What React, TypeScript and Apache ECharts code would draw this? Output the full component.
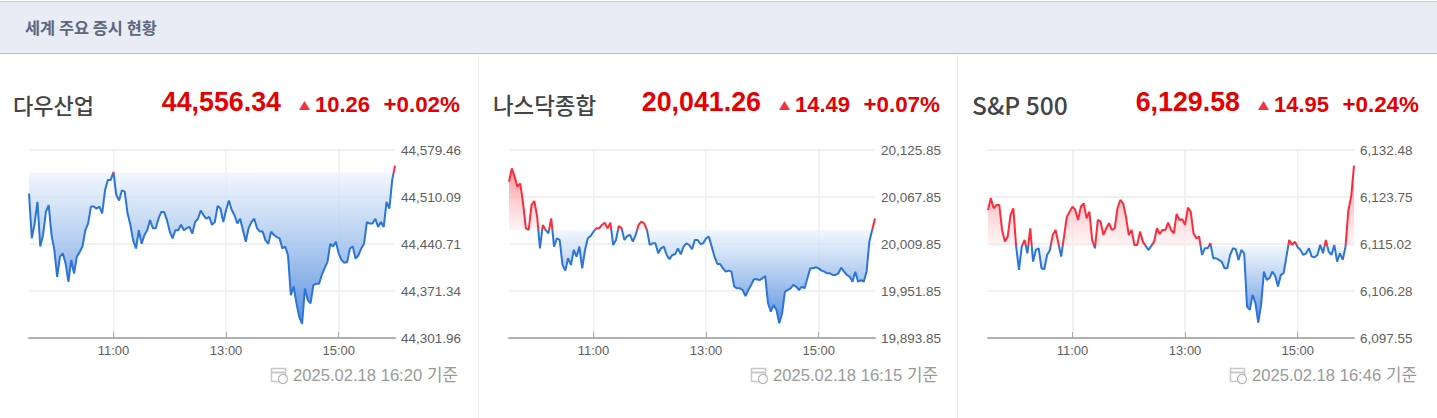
import React, { useEffect, useRef } from "react";
import * as echarts from "echarts";

const pageTitle = "세계 주요 증시 현황";
const names = ["다우산업", "나스닥종합", "S&P 500"];
const nameSizes = [22, 22.4, 24.6];
const prices = ["44,556.34", "20,041.26", "6,129.58"];
const changes = ["10.26", "14.49", "14.95"];
const percents = ["+0.02%", "+0.07%", "+0.24%"];
const stamps = ["2025.02.18 16:20", "2025.02.18 16:15", "2025.02.18 16:46"];
const bases = [44546.08, 20026.77, 6114.63];
const mins = [44301.96, 19893.85, 6097.55];
const maxs = [44579.46, 20125.85, 6132.48];
const tickLabels = [
  ["44,301.96", "44,371.34", "44,440.71", "44,510.09", "44,579.46"],
  ["19,893.85", "19,951.85", "20,009.85", "20,067.85", "20,125.85"],
  ["6,097.55", "6,106.28", "6,115.02", "6,123.75", "6,132.48"],
];
const hourLabels = ["11:00", "13:00", "15:00"];

const categories: string[] = [];
for (let m = 570; m <= 960; m += 3) {
  categories.push(`${String(Math.floor(m / 60)).padStart(2, "0")}:${String(m % 60).padStart(2, "0")}`);
}

const dow = [
  44515, 44449, 44471, 44503, 44437, 44454, 44488, 44498, 44454, 44432,
  44392, 44422, 44427, 44412, 44385, 44417, 44397, 44422, 44429, 44437,
  44461, 44471, 44496, 44496, 44493, 44496, 44486, 44520, 44535, 44535,
  44547, 44513, 44505, 44520, 44518, 44486, 44469, 44446, 44434, 44461,
  44441, 44454, 44461, 44476, 44464, 44464, 44478, 44488, 44488, 44476,
  44459, 44449, 44461, 44461, 44469, 44461, 44464, 44466, 44456, 44473,
  44478, 44490, 44483, 44478, 44481, 44469, 44473, 44497, 44493, 44473,
  44491, 44505, 44491, 44483, 44471, 44478, 44461, 44444, 44464, 44473,
  44478, 44464, 44459, 44459, 44446, 44441, 44459, 44454, 44451, 44449,
  44434, 44437, 44424, 44365, 44378, 44353, 44333, 44323, 44375, 44358,
  44353, 44380, 44382, 44382, 44395, 44405, 44414, 44441, 44437, 44444,
  44427, 44417, 44413, 44414, 44434, 44437, 44419, 44424, 44434, 44441,
  44473, 44471, 44471, 44478, 44466, 44473, 44466, 44503, 44493, 44535,
  44556.34,
];
const nasdaq = [
  20086.8, 20103.2, 20093, 20080.6, 20084.7, 20060, 20029.2, 20027.2, 20058, 20062.9,
  20043.6, 20004.5, 20033.3, 20027.2, 20023, 20041.5, 20006.6, 20016.9, 20014.8, 19984,
  19977, 19992.2, 19984, 20002.5, 19994.2, 20006.6, 19979.8, 20002.5, 20016.9, 20019.7,
  20025, 20029.2, 20029.2, 20033.3, 20036.2, 20029.2, 20036.2, 20008.6, 20014.8, 20032.1,
  20029.2, 20014.8, 20019.7, 20021, 20012.8, 20021, 20033.3, 20037.4, 20035.4, 20027.2,
  20008.6, 20010.7, 20010.7, 19998.4, 20004.5, 20006.6, 19996.3, 19991, 19996.3, 19997.1,
  20004.5, 19997.1, 20006.6, 20010.7, 20008.6, 20003.3, 20014.8, 20014.8, 20009.9, 20010.7,
  20016.9, 20018.9, 20006.6, 19994.2, 19985.2, 19985.2, 19979.8, 19975.7, 19977, 19975.7,
  19957.2, 19955.2, 19955.2, 19953.1, 19945.7, 19953.1, 19959.3, 19966.3, 19966.3, 19965.4,
  19967.5, 19970.4, 19936.7, 19926.4, 19934.6, 19928.4, 19912, 19924.3, 19951.1, 19953.1,
  19955.2, 19959.3, 19957.2, 19953.1, 19957.2, 19955.2, 19967.5, 19979.8, 19979.8, 19981.1,
  19979.8, 19977, 19975.7, 19973.7, 19973.7, 19971.6, 19971.6, 19973.7, 19980.7, 19975.7,
  19971.6, 19969.6, 19963.4, 19975.7, 19963.4, 19965.4, 19963.4, 19975.7, 20012.8, 20027.2,
  20041.26,
];
const sp500 = [
  6121.34, 6123.5, 6121.65, 6122.27, 6122.27, 6117.63, 6115.46, 6116.39, 6120.41, 6121.65,
  6114.53, 6110.2, 6114.53, 6115.77, 6113.29, 6117.94, 6111.75, 6113.91, 6114.22, 6110.51,
  6110.32, 6112.98, 6113.91, 6116.7, 6117.63, 6115.15, 6112.67, 6116.39, 6120.1, 6121.03,
  6121.96, 6121.34, 6119.48, 6121.96, 6122.58, 6119.79, 6121.03, 6115.77, 6114.22, 6119.48,
  6119.17, 6116.7, 6117.94, 6118.87, 6117.63, 6117.94, 6121.65, 6123.2, 6122.58, 6120.1,
  6116.7, 6117.63, 6114.84, 6114.84, 6117.32, 6115.46, 6114.66, 6113.91, 6114.66, 6115.46,
  6117.94, 6116.88, 6117.63, 6117.63, 6118.99, 6117.63, 6117.01, 6120.6, 6119.48, 6119.61,
  6118.56, 6121.77, 6121.03, 6117.01, 6116.08, 6116.39, 6112.98, 6114.22, 6114.22, 6115.15,
  6112.37, 6112.37, 6112.06, 6111.75, 6110.51, 6110.51, 6112.98, 6114.22, 6114.04, 6112.06,
  6113.91, 6113.29, 6103.39, 6102.77, 6105.56, 6104.01, 6100.42, 6103.7, 6109.89, 6108.34,
  6108.65, 6109.89, 6109.08, 6107.1, 6109.27, 6109.58, 6112.67, 6115.77, 6114.84, 6115.46,
  6114.41, 6113.91, 6112.98, 6113.29, 6114.22, 6112.67, 6112.55, 6112.98, 6114.84, 6113.29,
  6115.77, 6113.6, 6112.98, 6114.84, 6111.75, 6113.29, 6112.06, 6114.53, 6121.34, 6123.82,
  6129.58,
];
const seriesValues = [dow, nasdaq, sp500];

const panelOffsets = [0, 480, 959];
const RED = "#e60000";
const BLUE_LINE = "#2b74d8";
const RED_LINE = "#ff2b3a";
const LATIN = '"Liberation Sans", Arial, sans-serif';
const KR = '"Noto Sans CJK KR", sans-serif';

function App() {
  const ref = useRef<HTMLDivElement>(null);
  useEffect(() => {
    document.body.style.margin = "0";
    const chart = echarts.init(ref.current!, null, { renderer: "svg" });
    const isHour = (_: number, v: string) => hourLabels.includes(v);

    const grids = panelOffsets.map((o) => ({ left: 29 + o, width: 366, top: 150, height: 188 }));
    const xAxes = panelOffsets.map((_, i) => ({
      type: "category",
      gridIndex: i,
      data: categories,
      boundaryGap: false,
      axisLine: { lineStyle: { color: "#b0b0b0", width: 2 } },
      axisTick: { interval: isHour, inside: true, length: 6, lineStyle: { color: "#aaaaaa" } },
      axisLabel: { interval: isHour, color: "#606060", fontFamily: LATIN, fontSize: 13, margin: 6 },
      splitLine: { show: true, interval: isHour, lineStyle: { color: "#eeeeee", width: 1.5 } },
    }));
    const yAxes = panelOffsets.map((_, i) => ({
      type: "value",
      gridIndex: i,
      position: "right",
      min: mins[i],
      max: maxs[i],
      interval: (maxs[i] - mins[i]) / 4,
      axisLine: { show: false },
      axisTick: { show: false },
      axisLabel: {
        color: "#606060",
        fontFamily: LATIN,
        fontSize: 13.5,
        margin: 6,
        formatter: (_v: number, idx: number) => tickLabels[i][idx],
      },
      splitLine: { show: true, lineStyle: { color: "#f0f0f0", width: 2 } },
    }));
    const series = seriesValues.map((values, i) => {
      const hi = Math.max(...values, bases[i]);
      const lo = Math.min(...values, bases[i]);
      const f = (hi - bases[i]) / (hi - lo);
      return {
        type: "line",
        xAxisIndex: i,
        yAxisIndex: i,
        data: values,
        showSymbol: false,
        silent: true,
        z: 3,
        lineStyle: { width: 2 },
        areaStyle: {
          origin: bases[i],
          opacity: 1,
          color: {
            type: "linear",
            x: 0,
            y: 0,
            x2: 0,
            y2: 1,
            colorStops: [
              { offset: 0, color: "rgba(250,120,130,0.85)" },
              { offset: f, color: "rgba(255,235,235,0.5)" },
              { offset: f, color: "rgba(235,243,252,0.75)" },
              { offset: 1, color: "rgba(85,142,222,0.98)" },
            ],
          },
        },
      };
    });
    const visualMaps = bases.map((b, i) => ({
      show: false,
      type: "piecewise",
      seriesIndex: i,
      dimension: 1,
      pieces: [
        { gte: mins[i], lt: b, color: BLUE_LINE },
        { gte: b, lte: maxs[i], color: RED_LINE },
      ],
    }));

    const text = (x: number, y: number, t: string, fontSize: number, fill: string, fontFamily: string, fontWeight = "normal", align = "left") => ({
      type: "text",
      x,
      y,
      silent: true,
      style: { text: t, fontSize, fill, fontFamily, fontWeight, align, verticalAlign: "middle" },
    });

    const graphics: any[] = [
      { type: "rect", shape: { x: 0, y: 1, width: 1437, height: 53 }, style: { fill: "#e9ecf5" }, silent: true },
      { type: "line", shape: { x1: 0, y1: 1.5, x2: 1437, y2: 1.5 }, style: { stroke: "#c4c7d4", lineWidth: 1 }, silent: true },
      { type: "line", shape: { x1: 0, y1: 53.5, x2: 1437, y2: 53.5 }, style: { stroke: "#bcbfca", lineWidth: 1 }, silent: true },
      text(25, 27, pageTitle, 16.4, "#5d6880", KR, "bold"),
      { type: "line", shape: { x1: 478.5, y1: 54, x2: 478.5, y2: 418 }, style: { stroke: "#eeeeee", lineWidth: 1 }, silent: true },
      { type: "line", shape: { x1: 957.5, y1: 54, x2: 957.5, y2: 418 }, style: { stroke: "#eeeeee", lineWidth: 1 }, silent: true },
    ];
    panelOffsets.forEach((o, i) => {
      graphics.push(
        text(13 + o, 103.5, names[i], nameSizes[i], "#444444", KR, "500"),
        text(281 + o, 102, prices[i], 26.8, RED, LATIN, "bold", "right"),
        text(370 + o, 104, changes[i], 22, RED, LATIN, "bold", "right"),
        text(460 + o, 104, percents[i], 22.4, RED, LATIN, "bold", "right"),
        {
          type: "polygon",
          silent: true,
          shape: { points: [[299 + o, 110], [310 + o, 110], [304.5 + o, 101]] },
          style: { fill: "#f5333f" },
        },
        { type: "rect", silent: true, shape: { x: 271.5 + o, y: 368.5, width: 14, height: 13 }, style: { fill: "#fff", stroke: "#c8c8c8", lineWidth: 1.5 } },
        { type: "line", silent: true, shape: { x1: 272 + o, y1: 372.5, x2: 285 + o, y2: 372.5 }, style: { stroke: "#c8c8c8", lineWidth: 2 } },
        { type: "circle", silent: true, shape: { cx: 283 + o, cy: 379, r: 4.5 }, style: { fill: "#fff", stroke: "#b8b8b8", lineWidth: 1.2 } },
        text(293 + o, 375, stamps[i], 16.6, "#9a9a9a", LATIN),
        text(427 + o, 374, "기준", 16.8, "#9a9a9a", KR)
      );
    });

    chart.setOption({
      animation: false,
      backgroundColor: "#ffffff",
      grid: grids,
      xAxis: xAxes,
      yAxis: yAxes,
      series,
      visualMap: visualMaps,
      graphic: graphics,
    });
    return () => chart.dispose();
  }, []);
  return <div ref={ref} style={{ width: 1437, height: 418 }} />;
}

export default App;
